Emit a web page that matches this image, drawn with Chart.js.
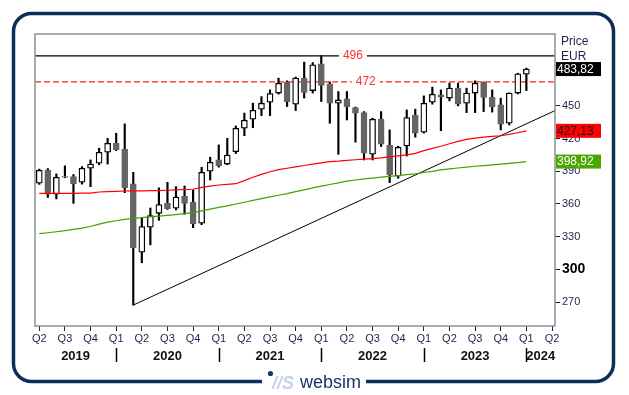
<!DOCTYPE html>
<html>
<head>
<meta charset="utf-8">
<script src="https://cdn.jsdelivr.net/npm/chart.js@4.4.1/dist/chart.umd.min.js"></script>
<style>
  html, body { margin: 0; padding: 0; background: #fff; }
  #wrap { width: 629px; height: 395px; }
</style>
</head>
<body>
<div id="wrap"><canvas id="priceChart" width="629" height="395"></canvas></div>
<script>
// Monthly candles, April 2019 - January 2024
const months = [
  '2019-04', '2019-05', '2019-06', '2019-07', '2019-08', '2019-09', '2019-10', '2019-11', '2019-12',
  '2020-01', '2020-02', '2020-03', '2020-04', '2020-05', '2020-06', '2020-07', '2020-08', '2020-09', '2020-10', '2020-11', '2020-12',
  '2021-01', '2021-02', '2021-03', '2021-04', '2021-05', '2021-06', '2021-07', '2021-08', '2021-09', '2021-10', '2021-11', '2021-12',
  '2022-01', '2022-02', '2022-03', '2022-04', '2022-05', '2022-06', '2022-07', '2022-08', '2022-09', '2022-10', '2022-11', '2022-12',
  '2023-01', '2023-02', '2023-03', '2023-04', '2023-05', '2023-06', '2023-07', '2023-08', '2023-09', '2023-10', '2023-11', '2023-12',
  '2024-01'
];
const open = [
  379, 391, 369, 384.5, 385.2, 380, 392.8, 397.4, 407.5,
  415.7, 410.2, 378.4, 315.7, 338.6, 351.4, 360.6, 356.1, 367.3, 361.8, 342.3, 390,
  400.4, 396.6, 408, 429.5, 437.8, 447, 453.4, 461.8, 471.8, 451.6, 475.5, 464.1,
  488.6, 470.2, 452.5, 456.4, 448.5, 443.9, 405.6, 437.8, 413.9, 385.7, 413.3, 441.5,
  425.9, 453.4, 460.1, 457.2, 466.3, 452.5, 461.8, 471.5, 458, 450.9, 434.1, 461.8,
  479.1
];
const high = [
  392, 392.5, 387.6, 395, 387, 394.3, 400.4, 411.2, 420.3,
  424.9, 433.5, 389, 347, 356.3, 374.8, 379.9, 375.9, 376.5, 372.9, 393.7, 402.9,
  414.2, 420.3, 431.6, 443.4, 452.5, 458.5, 464.7, 475.5, 473, 476.5, 490.2, 489.8,
  496, 472, 463.2, 463.2, 449, 444.8, 438.7, 444.8, 428, 413, 446.3, 447,
  459.2, 467.3, 464.7, 470.9, 470.9, 466.3, 473, 472, 464.7, 457.1, 462, 480,
  484.7
];
const low = [
  378, 366, 364.6, 384, 360.6, 378.2, 375.9, 396, 396.6,
  409, 370.4, 267.2, 306, 322.5, 345, 355, 354.5, 350.5, 338.2, 341, 382,
  393.8, 396, 406.3, 422.7, 430, 441.1, 441.1, 460.8, 449.4, 445.7, 457.2, 461.8,
  454, 434.1, 405.6, 437.1, 416.7, 400.4, 400.4, 412.7, 379.6, 383.6, 404, 421.3,
  425, 451.6, 427.3, 454.6, 450, 443.9, 443.9, 444.8, 444.3, 428, 432.5, 461,
  464.1
];
const close = [
  391, 369, 384.5, 385.2, 378.6, 392.8, 396.7, 407.5, 415.7,
  409.9, 375, 319.9, 339.2, 349.3, 359.4, 355.8, 366.4, 360.4, 341.6, 389.1, 398.3,
  395.2, 404.9, 429.5, 436.9, 446, 452.5, 461.3, 470.8, 454, 475.5, 462.3, 487.7,
  468.7, 452.5, 455.5, 449.4, 443.4, 406.6, 437.8, 414.8, 386.6, 412.1, 439.3, 425,
  452.5, 460.7, 458, 466.3, 451.6, 461.8, 470.8, 457.7, 449.4, 433.2, 461.8, 479.4,
  483.82
];
// moving averages (red = upper, green = lower)
const maRed = [
  369.8, 369.8, 369.8, 369.8, 369.8, 369.9, 370, 371, 371.3,
  371.6, 371.9, 372, 372.1, 372.2, 372.2, 372.6, 373, 373.3, 373.5, 375.2, 376.4,
  377.4, 378, 378.6, 381.4, 384.5, 387.2, 389.6, 391.5, 392.8, 394, 395.3, 396.5,
  397.7, 398.8, 399.3, 400, 400.6, 401.2, 401.7, 402.3, 403.2, 404.2, 405, 406.5,
  409, 411, 413, 415.3, 417.5, 419.3, 420.5, 421.3, 422, 422.6, 423.8, 425.4,
  427.13
];
const maGreen = [
  332.8, 333.6, 334.5, 335.5, 336.6, 337.8, 339.3, 341.5, 343.4,
  344.6, 345.8, 346.7, 347.5, 348.2, 348.8, 349.5, 350.3, 351.2, 352.1, 353.6, 355.2,
  356.8, 358.3, 360, 361.6, 363.3, 364.9, 366.5, 368, 369.5, 371.4, 373, 374.8,
  376.4, 377.9, 379.4, 380.9, 382, 383, 383.8, 384.6, 385.3, 386, 386.9, 387.7,
  388.9, 390, 391.3, 392.2, 393, 393.9, 394.6, 395.2, 395.9, 396.6, 397.2, 397.9,
  398.92
];
const resistance = 496;
const resistanceDashed = 472;
const trendStart = { month: '2020-03', value: 267.2 };
const trendEndValue = 445.7;
const yTicks = [270, 300, 330, 360, 390, 420, 450, 480];
const quarterNames = ['Q1', 'Q2', 'Q3', 'Q4'];

const FONT = 'Arial, "Liberation Sans", sans-serif';
const NAVY = '#1c2350';
const xMin = -0.5, xMax = 60.35;

const firstMonth = Number(months[0].slice(5)) - 1;
const quarterTicks = [];
for (let i = 0; i <= 60; i += 3) quarterTicks.push(i);

// year separators sit on every January candle
const yearStarts = months.map((m, i) => m.endsWith('-01') ? i : null).filter(v => v !== null);
const yearEdges = [xMin, ...yearStarts, xMax];
const yearNames = yearEdges.slice(1).map((e, k) => String(Number(months[0].slice(0, 4)) + k));
const yearCenters = yearEdges.slice(1).map((e, k) => (e + yearEdges[k]) / 2);

const up = close.map((c, i) => c >= open[i]);
const fmt = v => v.toFixed(2).replace('.', ',');

const decorations = {
  id: 'decorations',
  beforeDraw(chart) {
    const ctx = chart.ctx;
    ctx.save();
    ctx.fillStyle = '#fff';
    ctx.fillRect(0, 0, chart.width, chart.height);
    ctx.restore();
  },
  afterDatasetsDraw(chart) {
    const { ctx, chartArea: a, scales: { x, y } } = chart;
    ctx.save();
    // level labels with white gap in the line
    ctx.font = '12px ' + FONT;
    ctx.textAlign = 'center';
    ctx.textBaseline = 'middle';
    [[resistance, 36.7], [resistanceDashed, 38.2]].forEach(([v, at]) => {
      const px = x.getPixelForValue(at), py = y.getPixelForValue(v);
      ctx.fillStyle = '#fff';
      ctx.fillRect(px - 14, py - 5, 28, 10);
      ctx.fillStyle = '#ff3030';
      ctx.fillText(String(v), px, py);
    });
    // plot frame
    ctx.strokeStyle = '#8e8e98';
    ctx.lineWidth = 1.5;
    ctx.strokeRect(a.left, a.top, a.right - a.left, a.bottom - a.top);
    ctx.restore();
  },
  afterDraw(chart) {
    const { ctx, chartArea: a, scales: { x, y } } = chart;
    ctx.save();
    // year separators
    ctx.strokeStyle = '#000';
    ctx.lineWidth = 1.5;
    yearStarts.forEach(i => {
      const px = Math.round(x.getPixelForValue(i)) + 0.5;
      ctx.beginPath();
      ctx.moveTo(px, a.bottom + 22);
      ctx.lineTo(px, a.bottom + 36);
      ctx.stroke();
    });
    // axis title
    ctx.fillStyle = NAVY;
    ctx.font = '12px ' + FONT;
    ctx.textAlign = 'left';
    ctx.textBaseline = 'middle';
    ctx.fillText('Price', a.right + 6, 42);
    ctx.fillText('EUR', a.right + 6, 57);
    // last value boxes
    const last = months.length - 1;
    [[close[last], '#000000', '#ffffff'], [maRed[last], '#ff0000', '#1a1a1a'], [maGreen[last], '#4ca600', '#ffffff']]
      .forEach(([v, bg, fg]) => {
        const py = y.getPixelForValue(v);
        ctx.fillStyle = bg;
        ctx.fillRect(a.right + 1, py - 7, 45, 14);
        ctx.fillStyle = fg;
        ctx.font = '12px ' + FONT;
        ctx.fillText(fmt(v), a.right + 2, py + 0.5);
      });
    // outer frame
    ctx.strokeStyle = '#0f2d5c';
    ctx.lineWidth = 3.5;
    ctx.beginPath();
    ctx.roundRect(13.5, 13.5, 600, 368, 18);
    ctx.stroke();
    ctx.fillStyle = '#fff';
    ctx.fillRect(262, 374, 104, 16);
    // logo
    ctx.fillStyle = '#14366b';
    ctx.beginPath();
    ctx.arc(270.5, 373.5, 2.6, 0, Math.PI * 2);
    ctx.fill();
    ctx.fillStyle = '#c6d3e4';
    ctx.font = 'italic bold 18px ' + FONT;
    ctx.textBaseline = 'alphabetic';
    ctx.fillText('//S', 272, 389);
    ctx.fillStyle = '#14366b';
    ctx.font = '18px ' + FONT;
    ctx.fillText('websim', 300, 388);
    ctx.restore();
  }
};

new Chart(document.getElementById('priceChart'), {
  type: 'bar',
  data: {
    datasets: [
      {
        type: 'line',
        data: months.map((m, i) => ({ x: i, y: maRed[i] })),
        borderColor: '#ff0000', borderWidth: 1.2, pointRadius: 0, order: 0
      },
      {
        type: 'line',
        data: months.map((m, i) => ({ x: i, y: maGreen[i] })),
        borderColor: '#44a000', borderWidth: 1.2, pointRadius: 0, order: 0
      },
      {
        type: 'line',
        data: [{ x: months.indexOf(trendStart.month), y: trendStart.value }, { x: xMax, y: trendEndValue }],
        borderColor: '#000', borderWidth: 1, pointRadius: 0, order: 0
      },
      {
        data: months.map((m, i) => ({ x: i, y: [open[i], close[i]] })),
        backgroundColor: up.map(u => u ? '#ffffff' : '#646464'),
        borderColor: up.map(u => u ? '#000000' : '#646464'),
        borderWidth: 1.3, borderSkipped: false,
        barThickness: 6, grouped: false, order: 1
      },
      {
        data: months.map((m, i) => ({ x: i, y: [low[i], high[i]] })),
        backgroundColor: '#000', barThickness: 1.5, grouped: false, order: 2
      },
      {
        type: 'line',
        data: [{ x: xMin, y: resistance }, { x: xMax, y: resistance }],
        borderColor: '#000', borderWidth: 1.2, pointRadius: 0, order: 3
      },
      {
        type: 'line',
        data: [{ x: xMin, y: resistanceDashed }, { x: xMax, y: resistanceDashed }],
        borderColor: '#ff2020', borderWidth: 1.2, borderDash: [6, 3], pointRadius: 0, order: 3
      }
    ]
  },
  options: {
    responsive: false,
    animation: false,
    layout: { padding: { left: 35, top: 34, right: 0, bottom: 0 } },
    plugins: { legend: { display: false }, tooltip: { enabled: false } },
    scales: {
      x: {
        type: 'linear', min: xMin, max: xMax, offset: false, weight: 0,
        afterBuildTicks(s) { s.ticks = quarterTicks.map(v => ({ value: v })); },
        afterFit(s) { s.height = 20; },
        grid: { drawOnChartArea: false, offset: false, tickLength: 5, color: '#222' },
        border: { display: false },
        ticks: {
          padding: 1, autoSkip: false, maxRotation: 0, color: NAVY,
          font: { family: FONT, size: 11 },
          callback: v => quarterNames[Math.floor(((firstMonth + v) % 12) / 3)]
        }
      },
      x2: {
        type: 'linear', position: 'bottom', min: xMin, max: xMax, offset: false, weight: 1,
        afterBuildTicks(s) { s.ticks = yearCenters.map(v => ({ value: v })); },
        afterFit(s) { s.height = 49; },
        grid: { display: false, drawTicks: false },
        border: { display: false },
        ticks: {
          padding: 3, autoSkip: false, maxRotation: 0, color: '#111',
          font: { family: FONT, size: 13, weight: 'bold' },
          callback: (v, i) => yearNames[i]
        }
      },
      y: {
        position: 'right', min: 248, max: 516,
        afterBuildTicks(s) { s.ticks = yTicks.map(v => ({ value: v })); },
        afterFit(s) { s.width = 74; },
        grid: { drawOnChartArea: false, tickLength: 5, color: '#222' },
        border: { display: false },
        ticks: {
          padding: 2,
          color: c => c.tick && c.tick.value === 300 ? '#000' : NAVY,
          font: c => c.tick && c.tick.value === 300
            ? { family: FONT, size: 14, weight: 'bold' }
            : { family: FONT, size: 11 },
          callback: v => String(v)
        }
      }
    }
  },
  plugins: [decorations]
});
</script>
</body>
</html>
